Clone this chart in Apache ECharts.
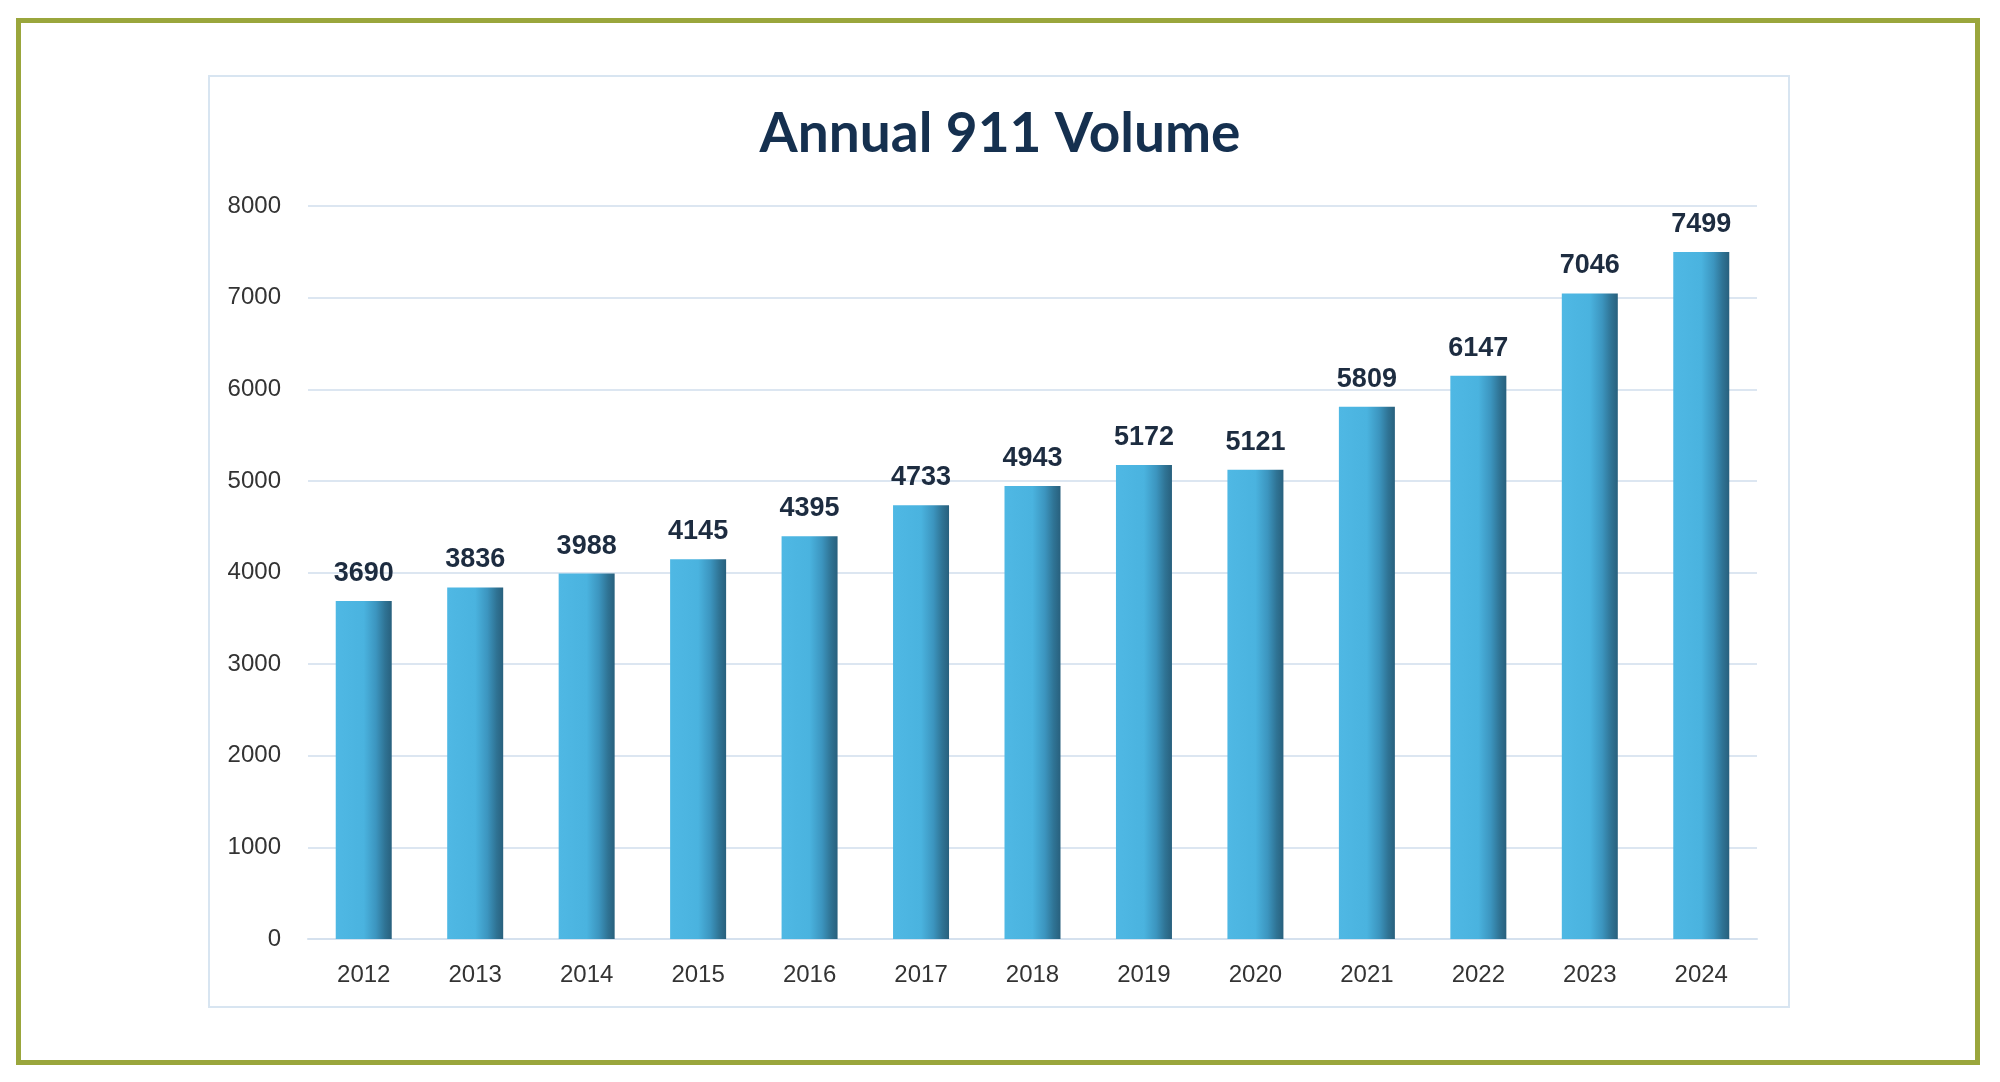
<!DOCTYPE html>
<html>
<head>
<meta charset="utf-8">
<script src="https://cdn.jsdelivr.net/npm/echarts@6/dist/echarts.min.js"></script>
<style>
  html, body { margin: 0; padding: 0; background: #ffffff; }
  #wrap { position: relative; width: 2000px; height: 1082px; overflow: hidden; }
  #outer { position: absolute; left: 16px; top: 18px; width: 1954px; height: 1037px; border: 5px solid #9aa63c; }
  #panel { position: absolute; left: 208px; top: 75px; width: 1578px; height: 929px; border: 2px solid #d8e5f1; }
  #chart { position: absolute; left: 0; top: 0; width: 2000px; height: 1082px; }
</style>
</head>
<body>
<div id="wrap">
  <div id="outer"></div>
  <div id="panel"></div>
  <div id="chart"></div>
</div>
<script>
const titleText = 'Annual 911 Volume';
const years = ['2012','2013','2014','2015','2016','2017','2018','2019','2020','2021','2022','2023','2024'];
const volumes = [3690, 3836, 3988, 4145, 4395, 4733, 4943, 5172, 5121, 5809, 6147, 7046, 7499];
const yMin = 0, yMax = 8000, yStep = 1000;

const chart = echarts.init(document.getElementById('chart'), null, { renderer: 'canvas' });
chart.setOption({
  backgroundColor: 'transparent',
  animation: false,
  title: {
    text: titleText,
    left: 'center',
    top: 102,
    textStyle: { fontFamily: 'Lato', fontWeight: 'bold', fontSize: 55, color: '#15304f' }
  },
  grid: { left: 308, right: 243, top: 206, bottom: 143, containLabel: false },
  xAxis: {
    type: 'category',
    data: years,
    axisLine: { show: true, lineStyle: { color: '#d5e1ee', width: 2 } },
    axisTick: { show: false },
    axisLabel: { fontFamily: 'Liberation Sans', fontSize: 24, color: '#333333', margin: 24 }
  },
  yAxis: {
    type: 'value',
    min: yMin, max: yMax, interval: yStep,
    axisLine: { show: false },
    axisTick: { show: false },
    splitLine: { lineStyle: { color: '#dce6f1', width: 2 } },
    axisLabel: { fontFamily: 'Liberation Sans', fontSize: 24, color: '#333333', margin: 27,
      formatter: function (v) { return String(v); } }
  },
  series: [{
    type: 'bar',
    data: volumes,
    barWidth: 56,
    itemStyle: {
      color: new echarts.graphic.LinearGradient(0, 0, 1, 0, [
        { offset: 0, color: '#4fb8e4' },
        { offset: 0.5, color: '#4ab3df' },
        { offset: 0.72, color: '#3c95bf' },
        { offset: 0.88, color: '#2f7394' },
        { offset: 1, color: '#28607d' }
      ])
    },
    label: {
      show: true,
      position: 'top',
      distance: 14,
      fontFamily: 'Liberation Sans',
      fontWeight: 'bold',
      fontSize: 27,
      color: '#1d2c40'
    }
  }]
});
</script>
</body>
</html>
